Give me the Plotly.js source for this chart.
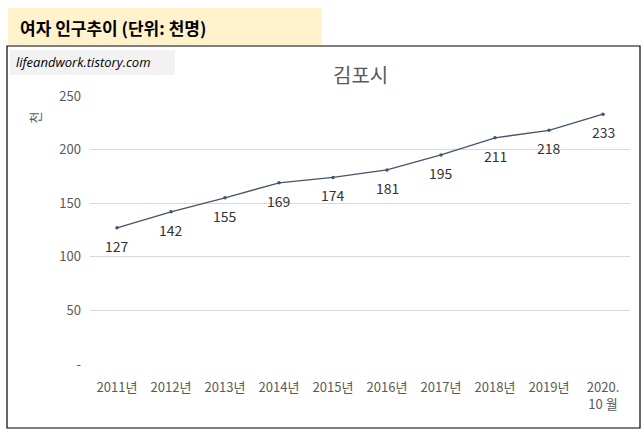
<!DOCTYPE html>
<html>
<head>
<meta charset="utf-8">
<script src="https://cdn.plot.ly/plotly-3.0.1.min.js"></script>
<style>body{margin:0;background:#fff}#chart{width:642px;height:436px}</style>
</head>
<body>
<div id="chart"></div>
<script>
const years = ['2011년','2012년','2013년','2014년','2015년','2016년','2017년','2018년','2019년','2020.<br>10 월'];
const women = [127, 142, 155, 169, 174, 181, 195, 211, 218, 233];
const yTicks = [0, 50, 100, 150, 200, 250];
const yTickText = ['-', '50', '100', '150', '200', '250'];

const font = 'Malgun Gothic, "Noto Sans CJK KR", sans-serif';

const data = [{
  x: years, y: women, type: 'scatter', mode: 'lines+markers',
  line: { color: '#44546a', width: 1.3 },
  marker: { size: 3.5, color: '#44546a' },
  cliponaxis: false, hoverinfo: 'none'
}];

const layout = {
  width: 642, height: 436,
  margin: { l: 90, r: 12, t: 96, b: 72 },
  paper_bgcolor: '#fff', plot_bgcolor: '#fff',
  font: { family: font, color: '#595959', size: 13 },
  showlegend: false,
  xaxis: { type: 'category', tickangle: 0, showgrid: false, zeroline: false, showline: false,
    ticks: '', ticklabelstandoff: 14, tickfont: { size: 13, color: '#595959' }, range: [-0.5, 9.5] },
  yaxis: { range: [0, 250], tickvals: yTicks, ticktext: yTickText, showgrid: true,
    gridcolor: '#d9d9d9', zeroline: false, ticks: '', ticklabelstandoff: 8,
    tickfont: { size: 13, color: '#595959' } },
  annotations: [
    { xref: 'paper', yref: 'paper', x: 0.5, y: 1.0, yshift: 38, text: '김포시', showarrow: false,
      font: { size: 20, color: '#595959' } },
    { xref: 'paper', yref: 'paper', x: -0.125, y: 0.95, text: '천', textangle: -90, showarrow: false,
      font: { size: 13, color: '#595959' } }
  ]
};

// data labels below each point
years.forEach((c, i) => layout.annotations.push({
  x: c, y: women[i], xref: 'x', yref: 'y', text: String(women[i]), showarrow: false,
  yanchor: 'top', yshift: -6, font: { size: 14, color: '#333' }
}));

// pixel-based decorations (header band, border, watermark)
const W = 642, H = 436, L = 90, R = 12, T = 96, B = 72;
const px = x => (x - L) / (W - L - R);
const py = y => (H - B - y) / (H - T - B);
layout.shapes = [
  { type: 'rect', xref: 'paper', yref: 'paper', x0: px(8), x1: px(322), y0: py(45), y1: py(8),
    fillcolor: '#fff2cc', line: { width: 0 }, layer: 'below' },
  { type: 'rect', xref: 'paper', yref: 'paper', x0: px(7), x1: px(640), y0: py(428), y1: py(46),
    line: { color: '#000', width: 1.2 }, layer: 'below' },
  { type: 'rect', xref: 'paper', yref: 'paper', x0: px(10), x1: px(175), y0: py(75), y1: py(50),
    fillcolor: '#f2f2f2', line: { width: 0 }, layer: 'below' }
];
layout.annotations.push(
  { xref: 'paper', yref: 'paper', x: px(18), y: py(27), xanchor: 'left', yanchor: 'middle',
    text: '<b>여자 인구추이 (단위: 천명)</b>', showarrow: false, font: { size: 17, color: '#000' } },
  { xref: 'paper', yref: 'paper', x: px(14), y: py(62), xanchor: 'left', yanchor: 'middle',
    text: '<i>lifeandwork.tistory.com</i>', showarrow: false,
    font: { size: 13, color: '#000', family: 'Open Sans, sans-serif' } }
);

Plotly.newPlot('chart', data, layout, { displayModeBar: false, staticPlot: true });
</script>
</body>
</html>
